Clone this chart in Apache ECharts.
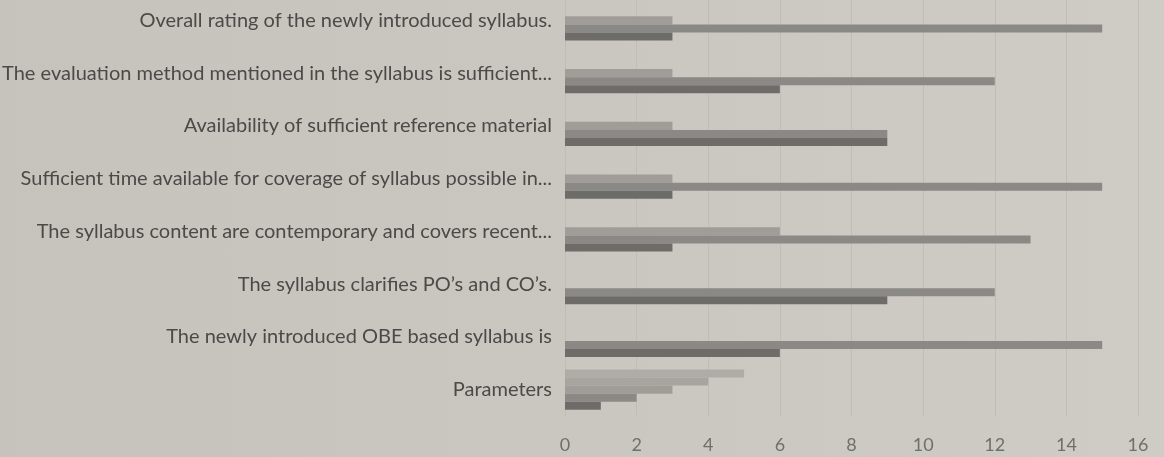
<!DOCTYPE html>
<html>
<head>
<meta charset="utf-8">
<title>Syllabus feedback</title>
<script src="https://cdn.jsdelivr.net/npm/echarts@6/dist/echarts.min.js"></script>
<style>
  html, body { margin: 0; padding: 0; }
  body { background: linear-gradient(90deg, #c6c3bd 0%, #cac7c1 50%, #cfccc6 100%); }
  #grafico1 { width: 1164px; height: 457px; }
</style>
</head>
<body>
<div id="grafico1"></div>
<script>
// categories listed top to bottom
var categorias = [
  'Overall rating of the newly introduced syllabus.',
  'The evaluation method mentioned in the syllabus is sufficient...',
  'Availability of sufficient reference material',
  'Sufficient time available for coverage of syllabus possible in...',
  'The syllabus content are contemporary and covers recent...',
  'The syllabus clarifies PO\u2019s and CO\u2019s.',
  'The newly introduced OBE based syllabus is',
  'Parameters'
];
var nombres = ['5', '4', '3', '2', '1'];
var serie5 = [0, 0, 0, 0, 0, 0, 0, 5];
var serie4 = [0, 0, 0, 0, 0, 0, 0, 4];
var serie3 = [3, 3, 3, 3, 6, 0, 0, 3];
var serie2 = [15, 12, 9, 15, 13, 12, 15, 2];
var serie1 = [3, 6, 9, 3, 3, 9, 6, 1];
var ticksX = [0, 2, 4, 6, 8, 10, 12, 14, 16];

var colores = ['#afaca7', '#a8a5a0', '#a09d98', '#8b8985', '#6e6c69'];

function grafico() {
  var chart = document.getElementById('grafico1');
  var myChart = echarts.init(chart);
  var datos = [serie5, serie4, serie3, serie2, serie1];
  var series = datos.map(function (d, i) {
    return {
      name: nombres[i],
      type: 'bar',
      data: d,
      barGap: '0%',
      barCategoryGap: '24%',
      itemStyle: { color: colores[i] },
      silent: true
    };
  });

  var option = {
    animation: false,
    textStyle: { fontFamily: 'Lato' },
    grid: {
      left: 565, right: 26, top: -6, bottom: 41,
      containLabel: false, outerBoundsMode: 'none'
    },
    xAxis: {
      type: 'value',
      min: ticksX[0],
      max: ticksX[ticksX.length - 1],
      interval: 2,
      axisLine: { show: false },
      axisTick: { show: false },
      axisLabel: { color: '#706f6c', fontSize: 18, margin: 20 },
      splitLine: { show: true, lineStyle: { color: '#c0bdb7', width: 1 } }
    },
    yAxis: {
      type: 'category',
      inverse: true,
      data: categorias,
      axisLine: { show: true, lineStyle: { color: '#c0bdb7' } },
      axisTick: { show: false },
      axisLabel: { color: '#4b4a48', fontSize: 20, margin: 13 }
    },
    series: series
  };

  myChart.setOption(option);
}

grafico();
</script>
</body>
</html>
